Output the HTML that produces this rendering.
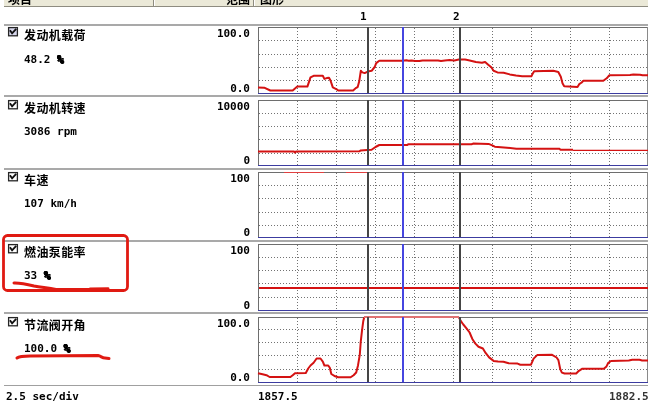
<!DOCTYPE html>
<html><head><meta charset="utf-8"><style>
html,body{margin:0;padding:0;background:#fff;}
body{width:648px;height:410px;overflow:hidden;position:relative;}
svg{position:absolute;left:0;top:0;}
.t{position:absolute;white-space:pre;color:#000;}
.mono{font-family:"DejaVu Sans Mono","Liberation Mono",monospace;font-weight:bold;font-size:11px;line-height:12px;}
.lab{position:absolute;left:24px;font-family:"Liberation Sans","Noto Sans CJK SC",sans-serif;font-weight:bold;font-size:12px;line-height:14px;white-space:pre;letter-spacing:0.4px;}
.val{position:absolute;left:24px;font-family:"DejaVu Sans Mono","Liberation Mono",monospace;font-weight:bold;font-size:11px;line-height:12px;white-space:pre;}
.pc{text-shadow:0.5px 0 0 #000,-0.5px 0 0 #000,0 0.5px 0 #000,0 -0.5px 0 #000,0.5px 0.5px 0 #000,-0.5px -0.5px 0 #000;}
.rng{position:absolute;right:398px;font-family:"DejaVu Sans Mono","Liberation Mono",monospace;font-weight:bold;font-size:11px;line-height:12px;white-space:pre;text-align:right;}
.hdr{position:absolute;top:-7px;font-family:"Liberation Sans","Noto Sans CJK SC",sans-serif;font-weight:bold;font-size:12px;line-height:14px;white-space:pre;}
</style></head><body>
<svg width="648" height="410" viewBox="0 0 648 410" shape-rendering="crispEdges">
<rect x="4" y="0" width="644" height="6" fill="#ebe9d8"/>
<rect x="4" y="6" width="644" height="1" fill="#8e8c80"/>
<rect x="153" y="0" width="1" height="6" fill="#8e8c80"/><rect x="154" y="0" width="1" height="6" fill="#fff"/>
<rect x="253" y="0" width="1" height="6" fill="#8e8c80"/><rect x="254" y="0" width="1" height="6" fill="#fff"/>
<rect x="4" y="24" width="644" height="2" fill="#a9a9a9"/>
<rect x="4" y="95" width="644" height="2" fill="#a9a9a9"/>
<rect x="4" y="168" width="644" height="2" fill="#a9a9a9"/>
<rect x="4" y="240" width="644" height="2" fill="#a9a9a9"/>
<rect x="4" y="312" width="644" height="2" fill="#a9a9a9"/>
<rect x="4" y="385" width="644" height="1" fill="#a0a0a0"/>
<line x1="259" y1="40.5" x2="647" y2="40.5" stroke="#727272" stroke-width="1" stroke-dasharray="1 2"/>
<line x1="259" y1="54.5" x2="647" y2="54.5" stroke="#727272" stroke-width="1" stroke-dasharray="1 2"/>
<line x1="259" y1="67.5" x2="647" y2="67.5" stroke="#727272" stroke-width="1" stroke-dasharray="1 2"/>
<line x1="259" y1="80.5" x2="647" y2="80.5" stroke="#727272" stroke-width="1" stroke-dasharray="1 2"/>
<line x1="297.5" y1="28" x2="297.5" y2="93" stroke="#727272" stroke-width="1" stroke-dasharray="1 2"/>
<line x1="336.5" y1="28" x2="336.5" y2="93" stroke="#727272" stroke-width="1" stroke-dasharray="1 2"/>
<line x1="375.5" y1="28" x2="375.5" y2="93" stroke="#727272" stroke-width="1" stroke-dasharray="1 2"/>
<line x1="414.5" y1="28" x2="414.5" y2="93" stroke="#727272" stroke-width="1" stroke-dasharray="1 2"/>
<line x1="453.5" y1="28" x2="453.5" y2="93" stroke="#727272" stroke-width="1" stroke-dasharray="1 2"/>
<line x1="492.5" y1="28" x2="492.5" y2="93" stroke="#727272" stroke-width="1" stroke-dasharray="1 2"/>
<line x1="531.5" y1="28" x2="531.5" y2="93" stroke="#727272" stroke-width="1" stroke-dasharray="1 2"/>
<line x1="570.5" y1="28" x2="570.5" y2="93" stroke="#727272" stroke-width="1" stroke-dasharray="1 2"/>
<line x1="609.5" y1="28" x2="609.5" y2="93" stroke="#727272" stroke-width="1" stroke-dasharray="1 2"/>
<rect x="258" y="27" width="390" height="1" fill="#6e6e6e"/>
<rect x="258" y="27" width="1" height="66" fill="#6e6e6e"/>
<rect x="647" y="27" width="1" height="66" fill="#8a8a8a"/>
<rect x="258" y="93" width="390" height="1" fill="#3c3ca0"/>
<line x1="259" y1="113.5" x2="647" y2="113.5" stroke="#727272" stroke-width="1" stroke-dasharray="1 2"/>
<line x1="259" y1="126.5" x2="647" y2="126.5" stroke="#727272" stroke-width="1" stroke-dasharray="1 2"/>
<line x1="259" y1="139.5" x2="647" y2="139.5" stroke="#727272" stroke-width="1" stroke-dasharray="1 2"/>
<line x1="259" y1="153.5" x2="647" y2="153.5" stroke="#727272" stroke-width="1" stroke-dasharray="1 2"/>
<line x1="297.5" y1="101" x2="297.5" y2="165" stroke="#727272" stroke-width="1" stroke-dasharray="1 2"/>
<line x1="336.5" y1="101" x2="336.5" y2="165" stroke="#727272" stroke-width="1" stroke-dasharray="1 2"/>
<line x1="375.5" y1="101" x2="375.5" y2="165" stroke="#727272" stroke-width="1" stroke-dasharray="1 2"/>
<line x1="414.5" y1="101" x2="414.5" y2="165" stroke="#727272" stroke-width="1" stroke-dasharray="1 2"/>
<line x1="453.5" y1="101" x2="453.5" y2="165" stroke="#727272" stroke-width="1" stroke-dasharray="1 2"/>
<line x1="492.5" y1="101" x2="492.5" y2="165" stroke="#727272" stroke-width="1" stroke-dasharray="1 2"/>
<line x1="531.5" y1="101" x2="531.5" y2="165" stroke="#727272" stroke-width="1" stroke-dasharray="1 2"/>
<line x1="570.5" y1="101" x2="570.5" y2="165" stroke="#727272" stroke-width="1" stroke-dasharray="1 2"/>
<line x1="609.5" y1="101" x2="609.5" y2="165" stroke="#727272" stroke-width="1" stroke-dasharray="1 2"/>
<rect x="258" y="100" width="390" height="1" fill="#6e6e6e"/>
<rect x="258" y="100" width="1" height="65" fill="#6e6e6e"/>
<rect x="647" y="100" width="1" height="65" fill="#8a8a8a"/>
<rect x="258" y="165" width="390" height="1" fill="#3c3ca0"/>
<line x1="259" y1="185.5" x2="647" y2="185.5" stroke="#727272" stroke-width="1" stroke-dasharray="1 2"/>
<line x1="259" y1="198.5" x2="647" y2="198.5" stroke="#727272" stroke-width="1" stroke-dasharray="1 2"/>
<line x1="259" y1="212.5" x2="647" y2="212.5" stroke="#727272" stroke-width="1" stroke-dasharray="1 2"/>
<line x1="259" y1="225.5" x2="647" y2="225.5" stroke="#727272" stroke-width="1" stroke-dasharray="1 2"/>
<line x1="297.5" y1="173" x2="297.5" y2="237" stroke="#727272" stroke-width="1" stroke-dasharray="1 2"/>
<line x1="336.5" y1="173" x2="336.5" y2="237" stroke="#727272" stroke-width="1" stroke-dasharray="1 2"/>
<line x1="375.5" y1="173" x2="375.5" y2="237" stroke="#727272" stroke-width="1" stroke-dasharray="1 2"/>
<line x1="414.5" y1="173" x2="414.5" y2="237" stroke="#727272" stroke-width="1" stroke-dasharray="1 2"/>
<line x1="453.5" y1="173" x2="453.5" y2="237" stroke="#727272" stroke-width="1" stroke-dasharray="1 2"/>
<line x1="492.5" y1="173" x2="492.5" y2="237" stroke="#727272" stroke-width="1" stroke-dasharray="1 2"/>
<line x1="531.5" y1="173" x2="531.5" y2="237" stroke="#727272" stroke-width="1" stroke-dasharray="1 2"/>
<line x1="570.5" y1="173" x2="570.5" y2="237" stroke="#727272" stroke-width="1" stroke-dasharray="1 2"/>
<line x1="609.5" y1="173" x2="609.5" y2="237" stroke="#727272" stroke-width="1" stroke-dasharray="1 2"/>
<rect x="258" y="172" width="390" height="1" fill="#6e6e6e"/>
<rect x="258" y="172" width="1" height="65" fill="#6e6e6e"/>
<rect x="647" y="172" width="1" height="65" fill="#8a8a8a"/>
<rect x="258" y="237" width="390" height="1" fill="#3c3ca0"/>
<line x1="259" y1="257.5" x2="647" y2="257.5" stroke="#727272" stroke-width="1" stroke-dasharray="1 2"/>
<line x1="259" y1="270.5" x2="647" y2="270.5" stroke="#727272" stroke-width="1" stroke-dasharray="1 2"/>
<line x1="259" y1="283.5" x2="647" y2="283.5" stroke="#727272" stroke-width="1" stroke-dasharray="1 2"/>
<line x1="259" y1="297.5" x2="647" y2="297.5" stroke="#727272" stroke-width="1" stroke-dasharray="1 2"/>
<line x1="297.5" y1="245" x2="297.5" y2="310" stroke="#727272" stroke-width="1" stroke-dasharray="1 2"/>
<line x1="336.5" y1="245" x2="336.5" y2="310" stroke="#727272" stroke-width="1" stroke-dasharray="1 2"/>
<line x1="375.5" y1="245" x2="375.5" y2="310" stroke="#727272" stroke-width="1" stroke-dasharray="1 2"/>
<line x1="414.5" y1="245" x2="414.5" y2="310" stroke="#727272" stroke-width="1" stroke-dasharray="1 2"/>
<line x1="453.5" y1="245" x2="453.5" y2="310" stroke="#727272" stroke-width="1" stroke-dasharray="1 2"/>
<line x1="492.5" y1="245" x2="492.5" y2="310" stroke="#727272" stroke-width="1" stroke-dasharray="1 2"/>
<line x1="531.5" y1="245" x2="531.5" y2="310" stroke="#727272" stroke-width="1" stroke-dasharray="1 2"/>
<line x1="570.5" y1="245" x2="570.5" y2="310" stroke="#727272" stroke-width="1" stroke-dasharray="1 2"/>
<line x1="609.5" y1="245" x2="609.5" y2="310" stroke="#727272" stroke-width="1" stroke-dasharray="1 2"/>
<rect x="258" y="244" width="390" height="1" fill="#6e6e6e"/>
<rect x="258" y="244" width="1" height="66" fill="#6e6e6e"/>
<rect x="647" y="244" width="1" height="66" fill="#8a8a8a"/>
<rect x="258" y="310" width="390" height="1" fill="#3c3ca0"/>
<line x1="259" y1="329.5" x2="647" y2="329.5" stroke="#727272" stroke-width="1" stroke-dasharray="1 2"/>
<line x1="259" y1="342.5" x2="647" y2="342.5" stroke="#727272" stroke-width="1" stroke-dasharray="1 2"/>
<line x1="259" y1="355.5" x2="647" y2="355.5" stroke="#727272" stroke-width="1" stroke-dasharray="1 2"/>
<line x1="259" y1="369.5" x2="647" y2="369.5" stroke="#727272" stroke-width="1" stroke-dasharray="1 2"/>
<line x1="297.5" y1="318" x2="297.5" y2="382" stroke="#727272" stroke-width="1" stroke-dasharray="1 2"/>
<line x1="336.5" y1="318" x2="336.5" y2="382" stroke="#727272" stroke-width="1" stroke-dasharray="1 2"/>
<line x1="375.5" y1="318" x2="375.5" y2="382" stroke="#727272" stroke-width="1" stroke-dasharray="1 2"/>
<line x1="414.5" y1="318" x2="414.5" y2="382" stroke="#727272" stroke-width="1" stroke-dasharray="1 2"/>
<line x1="453.5" y1="318" x2="453.5" y2="382" stroke="#727272" stroke-width="1" stroke-dasharray="1 2"/>
<line x1="492.5" y1="318" x2="492.5" y2="382" stroke="#727272" stroke-width="1" stroke-dasharray="1 2"/>
<line x1="531.5" y1="318" x2="531.5" y2="382" stroke="#727272" stroke-width="1" stroke-dasharray="1 2"/>
<line x1="570.5" y1="318" x2="570.5" y2="382" stroke="#727272" stroke-width="1" stroke-dasharray="1 2"/>
<line x1="609.5" y1="318" x2="609.5" y2="382" stroke="#727272" stroke-width="1" stroke-dasharray="1 2"/>
<rect x="258" y="317" width="390" height="1" fill="#6e6e6e"/>
<rect x="258" y="317" width="1" height="65" fill="#6e6e6e"/>
<rect x="647" y="317" width="1" height="65" fill="#8a8a8a"/>
<rect x="258" y="382" width="390" height="1" fill="#3c3ca0"/>
<polyline points="258,87.5 264.2,87.7 270.3,90.5 292.7,90.5 297.3,86.6 307.4,86.6 310.5,77.4 313.6,75.8 322.8,75.8 324.4,78.9 326.7,78.1 329,77.8 330.5,80.5 332.8,87.4 336.7,89.3 338.2,90.5 353.1,90.4 356.2,87.8 357.7,87 359.3,80.9 360.8,70.8 362.3,72.4 364.7,73.1 367.7,71.6 371.6,70.8 374.7,67 376.2,63.1 379.3,60.8 402.5,60.8 406.3,60.3 408.6,60.8 411.7,60.5 414.8,61.1 419.4,61.1 422.5,60.5 438,60.5 441,61.1 444.9,60.5 449.6,60 454.3,60.5 458.9,59.6 465.1,59.6 469.7,60.5 475.9,62 482,62.7 485.1,62 488.2,64.7 491.3,67.3 493.6,70.8 497.5,72.4 503.6,72.8 509.8,74.4 516,75.5 522.2,76.2 531.4,76.2 533,73.1 534.2,71.3 553.3,70.8 558.3,72 560.8,76.7 562.5,83.3 564.2,86.3 577.5,87 579.2,84.2 581.7,82.5 583.3,80.8 603.3,80.8 606.7,78.3 609.2,75.3 630,75 633.3,74.5 640,74.7 642.5,75.3 649,75.3" fill="none" stroke="#d41212" stroke-width="2" stroke-linejoin="round" shape-rendering="geometricPrecision"/>
<polyline points="258,151.5 294,151.5 295,152.6 296,151.5 359.3,151.3 360.8,150.4 367,150.1 371.6,149.8 375.5,147 379.3,145 407.1,145 408.6,144.2 471.6,144.2 473.1,143.6 488.6,143.9 491.7,145.1 494.8,146.7 507.1,147.7 516.4,148.8 559.6,148.8 560.3,149.8 573,149.8" fill="none" stroke="#d41212" stroke-width="2" stroke-linejoin="round" shape-rendering="geometricPrecision"/>
<polyline points="573,150.4 649,150.4" fill="none" stroke="#d41212" stroke-width="1.3" shape-rendering="geometricPrecision"/>
<rect x="284" y="172" width="40" height="1" fill="#e04040"/><rect x="346" y="172" width="22" height="1" fill="#e04040"/>
<rect x="259" y="287" width="389" height="2" fill="#d41212"/>
<polyline points="258,373.2 262.6,374.3 266.5,375.2 269.6,377 290.4,377 292.7,375.2 295,373.2 305.8,372.9 308.2,368.5 310.5,365.5 313.6,362.8 316.6,358.5 320.5,358.5 322.8,361.6 324.4,365.5 328.2,365.5 329.8,367.8 331.3,374 335.2,376.3 338.2,377.3 350.6,377.3 353.6,375.2 356.2,372.5 358,365.4 359.8,354.7 360.7,342.2 362.1,329.8 363.3,320.9 364.2,317.2" fill="none" stroke="#d41212" stroke-width="2" stroke-linejoin="round" shape-rendering="geometricPrecision"/>
<polyline points="458.9,317.2 460.7,320.9 463.3,324.5 466.9,328.9 469.6,332.5 472.2,338.7 474.9,343.1 478.5,346.7 482.9,348.5 485.6,352.9 489.1,357.4 493.6,360.9 498,361.5 503.4,361.8 508.7,363.2 517.6,363.6 520.3,364.7 531,364.7 533.6,358.6 537.2,355.1 552.1,354.8 556.6,357.5 558.4,360.1 560.2,369 561.9,372.6 564.6,373.5 576.2,373.5 578.9,370.8 582.4,368.7 603.8,368.7 606.5,366.4 608.3,362.8 611,361 628.8,360.5 632.3,359.8 639.5,359.8 642.1,360.5 649,360.5" fill="none" stroke="#d41212" stroke-width="2" stroke-linejoin="round" shape-rendering="geometricPrecision"/>
<rect x="364" y="316" width="95" height="2" fill="#e07272"/>
<rect x="367" y="27" width="2" height="66" fill="#454545"/>
<rect x="402" y="27" width="2" height="66" fill="#4646e0"/>
<rect x="459" y="27" width="2" height="66" fill="#454545"/>
<rect x="367" y="100" width="2" height="65" fill="#454545"/>
<rect x="402" y="100" width="2" height="65" fill="#4646e0"/>
<rect x="459" y="100" width="2" height="65" fill="#454545"/>
<rect x="367" y="172" width="2" height="65" fill="#454545"/>
<rect x="402" y="172" width="2" height="65" fill="#4646e0"/>
<rect x="459" y="172" width="2" height="65" fill="#454545"/>
<rect x="367" y="244" width="2" height="66" fill="#454545"/>
<rect x="402" y="244" width="2" height="66" fill="#4646e0"/>
<rect x="459" y="244" width="2" height="66" fill="#454545"/>
<rect x="367" y="317" width="2" height="65" fill="#454545"/>
<rect x="402" y="317" width="2" height="65" fill="#4646e0"/>
<rect x="459" y="317" width="2" height="65" fill="#454545"/>
<g shape-rendering="geometricPrecision">
<rect x="3.5" y="235.5" width="124" height="55" rx="4" fill="none" stroke="#e01a12" stroke-width="2.8"/>
<path d="M14,283 C20,282.8 26,284 34,286 C42,287.5 48,287.8 56,289.5 L100,289.5" fill="none" stroke="#e01a12" stroke-width="3" stroke-linecap="round"/>
<path d="M90,289 L108,288.7" fill="none" stroke="#e01a12" stroke-width="3" stroke-linecap="round"/>
<path d="M17,358 C19,356.5 23,356 30,356 L98,355.6 C101,356 102,358 105,358 L109,358.5" fill="none" stroke="#e01a12" stroke-width="3" stroke-linecap="round"/>
</g>
<rect x="8.6" y="27.6" width="8.8" height="8.2" fill="#d8d8ee" stroke="#262626" stroke-width="1.3" shape-rendering="geometricPrecision"/>
<path d="M9.9,30.2 L12.1,33.3 L16.2,28.8" fill="none" stroke="#111" stroke-width="1.9" shape-rendering="geometricPrecision"/>
<rect x="8.6" y="100.6" width="8.8" height="8.2" fill="#fff" stroke="#262626" stroke-width="1.3" shape-rendering="geometricPrecision"/>
<path d="M9.9,103.2 L12.1,106.3 L16.2,101.8" fill="none" stroke="#111" stroke-width="1.9" shape-rendering="geometricPrecision"/>
<rect x="8.6" y="172.6" width="8.8" height="8.2" fill="#fff" stroke="#262626" stroke-width="1.3" shape-rendering="geometricPrecision"/>
<path d="M9.9,175.2 L12.1,178.3 L16.2,173.8" fill="none" stroke="#111" stroke-width="1.9" shape-rendering="geometricPrecision"/>
<rect x="8.6" y="244.6" width="8.8" height="8.2" fill="#fff" stroke="#262626" stroke-width="1.3" shape-rendering="geometricPrecision"/>
<path d="M9.9,247.2 L12.1,250.3 L16.2,245.8" fill="none" stroke="#111" stroke-width="1.9" shape-rendering="geometricPrecision"/>
<rect x="8.6" y="317.6" width="8.8" height="8.2" fill="#fff" stroke="#262626" stroke-width="1.3" shape-rendering="geometricPrecision"/>
<path d="M9.9,320.2 L12.1,323.3 L16.2,318.8" fill="none" stroke="#111" stroke-width="1.9" shape-rendering="geometricPrecision"/>
</svg>
<div class="hdr" style="left:8px">项目</div>
<div class="hdr" style="left:226px">范围</div>
<div class="hdr" style="left:260px">图形</div>
<div class="t mono" style="left:360px;top:11px">1</div>
<div class="t mono" style="left:453px;top:11px">2</div>
<div class="lab" style="top:29px">发动机载荷</div>
<div class="val" style="top:54px">48.2 <span class="pc">%</span></div>
<div class="rng" style="top:28px">100.0</div>
<div class="rng" style="top:83px">0.0</div>
<div class="lab" style="top:101.5px">发动机转速</div>
<div class="val" style="top:126px">3086 rpm</div>
<div class="rng" style="top:101px">10000</div>
<div class="rng" style="top:155px">0</div>
<div class="lab" style="top:173.5px">车速</div>
<div class="val" style="top:198px">107 km/h</div>
<div class="rng" style="top:173px">100</div>
<div class="rng" style="top:227px">0</div>
<div class="lab" style="top:245.5px">燃油泵能率</div>
<div class="val" style="top:270px">33 <span class="pc">%</span></div>
<div class="rng" style="top:245px">100</div>
<div class="rng" style="top:300px">0</div>
<div class="lab" style="top:318.5px">节流阀开角</div>
<div class="val" style="top:343px">100.0 <span class="pc">%</span></div>
<div class="rng" style="top:318px">100.0</div>
<div class="rng" style="top:372px">0.0</div>
<div class="t mono" style="left:6px;top:391px">2.5 sec/div</div>
<div class="t mono" style="left:258px;top:391px">1857.5</div>
<div class="t mono" style="left:609px;top:391px;color:#333">1882.5</div>
</body></html>
